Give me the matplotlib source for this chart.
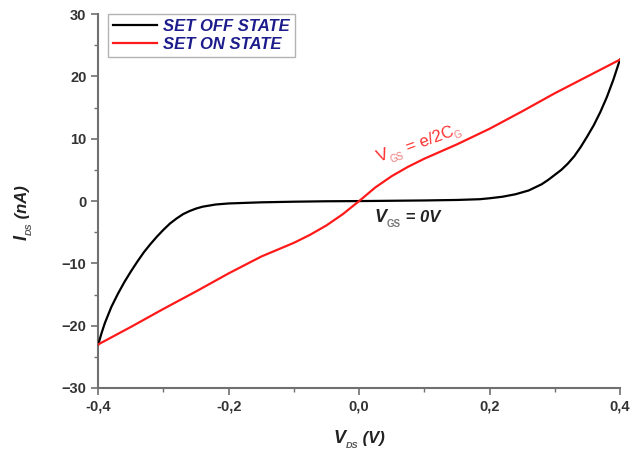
import matplotlib
matplotlib.use('Agg')
import matplotlib.pyplot as plt
import numpy as np
from matplotlib.ticker import AutoMinorLocator
from matplotlib.transforms import offset_copy

plt.rcParams['font.family'] = ['Liberation Sans', 'DejaVu Sans']

# SET OFF STATE (V_GS = 0V)
v_off = [-0.40, -0.395, -0.39, -0.38, -0.37, -0.36, -0.35, -0.34, -0.33, -0.32, -0.31,
         -0.30, -0.29, -0.28, -0.27, -0.26, -0.25, -0.24, -0.22, -0.20, -0.15, -0.10,
         -0.05, 0.0, 0.05, 0.10, 0.15, 0.185, 0.20, 0.22, 0.24, 0.26, 0.28, 0.29,
         0.30, 0.31, 0.32, 0.33, 0.34, 0.35, 0.36, 0.37, 0.38, 0.39, 0.40]
i_off = [-23.0, -21.2, -19.6, -17.0, -14.9, -13.0, -11.3, -9.7, -8.2, -6.9, -5.7,
         -4.6, -3.6, -2.8, -2.1, -1.6, -1.2, -0.9, -0.55, -0.38, -0.2, -0.1,
         -0.03, 0.0, 0.05, 0.1, 0.18, 0.3, 0.45, 0.7, 1.1, 1.7, 2.7, 3.4,
         4.2, 5.0, 6.0, 7.2, 8.7, 10.4, 12.2, 14.3, 16.7, 19.5, 22.7]

# SET ON STATE (V_GS = e/2C_G)
v_on = [-0.40, -0.35, -0.30, -0.25, -0.20, -0.15, -0.10, -0.075, -0.05, -0.025, 0.0,
        0.025, 0.05, 0.075, 0.10, 0.15, 0.20, 0.25, 0.30, 0.35, 0.40]
i_on = [-23.0, -20.2, -17.3, -14.5, -11.6, -8.9, -6.7, -5.4, -3.9, -2.1, 0.0,
        2.2, 4.0, 5.5, 6.8, 9.1, 11.6, 14.4, 17.3, 20.0, 22.7]

x_ticks = [-0.4, -0.2, 0.0, 0.2, 0.4]
x_tick_labels = ['-0,4', '-0,2', '0,0', '0,2', '0,4']
y_ticks = [-30, -20, -10, 0, 10, 20, 30]

fig = plt.figure(figsize=(6.3, 4.57), dpi=100)
ax = fig.add_axes([0.156, 0.151, 0.828, 0.818])
renderer = fig.canvas.get_renderer()


def rich_text(parent, x, y, pieces, transform, rotation=0, center=False):
    """Draw text pieces one after another: (text, size, color, dy, weight, style)."""
    # measure widths first (in points)
    widths = []
    for txt, size, color, dy, weight, style in pieces:
        t = parent.text(0, 0, txt, fontsize=size, fontweight=weight, fontstyle=style)
        widths.append(t.get_window_extent(renderer).width * 72.0 / fig.dpi)
        t.remove()
    a = np.deg2rad(rotation)
    pos = -sum(widths) / 2.0 if center else 0.0
    for (txt, size, color, dy, weight, style), w in zip(pieces, widths):
        ox = pos * np.cos(a) - dy * np.sin(a)
        oy = pos * np.sin(a) + dy * np.cos(a)
        tr = offset_copy(transform, fig=fig, x=ox, y=oy, units='points')
        parent.text(x, y, txt, transform=tr, fontsize=size, color=color, fontweight=weight,
                    fontstyle=style, rotation=rotation, rotation_mode='anchor',
                    ha='left', va='baseline', zorder=5)
        pos += w


ax.plot(v_off, i_off, color='black', lw=1.6, label='SET OFF STATE', zorder=3)
ax.plot(v_on, i_on, color='#ff1a1a', lw=1.6, label='SET ON STATE', zorder=3)

ax.set_xlim(-0.4, 0.4)
ax.set_ylim(-30, 30)
ax.set_xticks(x_ticks)
ax.set_xticklabels(x_tick_labels)
ax.set_yticks(y_ticks)
ax.xaxis.set_minor_locator(AutoMinorLocator(2))
ax.yaxis.set_minor_locator(AutoMinorLocator(2))

for s in ['top', 'right']:
    ax.spines[s].set_visible(False)
for s in ['left', 'bottom']:
    ax.spines[s].set_color('#707070')
    ax.spines[s].set_linewidth(1.5)

ax.tick_params(which='major', direction='out', length=5, width=1.2, color='#707070',
               labelsize=10.5, labelcolor='#333333')
ax.tick_params(which='minor', direction='out', length=3, width=1.0, color='#707070')
for lab in ax.get_xticklabels() + ax.get_yticklabels():
    lab.set_fontweight('bold')

leg = ax.legend(loc='upper left', bbox_to_anchor=(0.019, 1.0), borderaxespad=0,
                fancybox=False, edgecolor='#a0a0a0', handlelength=2.6,
                prop={'size': 12, 'weight': 'bold', 'style': 'italic'},
                labelcolor='#1c1c8c', borderpad=0.3, labelspacing=0.15,
                handletextpad=0.4)
leg.get_frame().set_linewidth(1.0)

# axis labels
rich_text(fig, 0.570, 0.030,
          [('V', 13, '#222222', 0, 'bold', 'italic'),
           ('DS', 6.5, '#555555', -3.5, 'bold', 'italic'),
           (' (V)', 12, '#222222', 0, 'bold', 'italic')],
          fig.transFigure, center=True)
rich_text(fig, 0.043, 0.535,
          [('I', 13, '#222222', 0, 'bold', 'italic'),
           ('DS', 6.5, '#555555', -3.5, 'bold', 'italic'),
           (' (nA)', 12, '#222222', 0, 'bold', 'italic')],
          fig.transFigure, rotation=90, center=True)

# annotations
rich_text(ax, 0.031, 6.2,
          [('V', 12.5, '#ff3030', 0, 'normal', 'normal'),
           ('GS', 7, '#f07a7a', -3.5, 'normal', 'normal'),
           (' = e/2C', 12, '#ff3030', 0, 'normal', 'normal'),
           ('G', 7, '#f07a7a', -3.0, 'normal', 'normal')],
          ax.transData, rotation=20)
rich_text(ax, 0.024, -3.4,
          [('V', 13, '#222222', 0, 'bold', 'italic'),
           ('GS', 7, '#777777', -3.5, 'bold', 'normal'),
           (' = 0V', 12, '#222222', 0, 'bold', 'italic')],
          ax.transData)

fig.savefig('out.png', dpi=100)
